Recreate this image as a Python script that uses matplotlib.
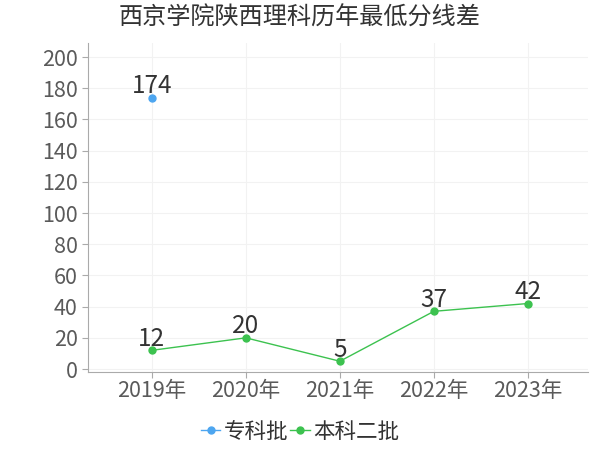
import matplotlib
matplotlib.use('Agg')
import matplotlib.pyplot as plt
import numpy as np

plt.rcParams['font.family'] = ['Noto Sans CJK SC', 'DejaVu Sans']

years = ['2019年', '2020年', '2021年', '2022年', '2023年']
zhuanke = [174, None, None, None, None]
benke2 = [12, 20, 5, 37, 42]

fig = plt.figure(figsize=(6, 4.5), dpi=100)
ax = fig.add_axes([88/600, 1-372/450, 500/600, 329/450])

x = np.arange(len(years))
zk = np.array([np.nan if v is None else v for v in zhuanke], dtype=float)
ax.plot(x, zk, color='#4da6f0', marker='o', markersize=5, lw=1, label='专科批')
ax.plot(x, benke2, color='#3cc24f', marker='o', markersize=5, lw=1, label='本科二批')

for i, v in enumerate(zk):
    if not np.isnan(v):
        ax.text(i, v - 1, str(int(v)), ha='center', va='bottom', fontsize=17.5, color='#333333')
for i, v in enumerate(benke2):
    ax.text(i, v - 1, str(v), ha='center', va='bottom', fontsize=17.5, color='#333333')

ax.set_xlim(-0.68, 4.64)
ax.set_ylim(-1.9, 209)
ax.set_yticks(range(0, 201, 20))
ax.set_xticks(x)
ax.set_xticklabels(years)
ax.tick_params(axis='both', labelsize=15.5, colors='#aaaaaa', labelcolor='#5a5a5a', length=4)
ax.tick_params(axis='x', pad=2)
ax.grid(True, color='#f2f2f2', lw=0.8)
ax.set_axisbelow(True)
for s in ['top', 'right']:
    ax.spines[s].set_visible(False)
for s in ['left', 'bottom']:
    ax.spines[s].set_color('#aaaaaa')

fig.suptitle('西京学院陕西理科历年最低分线差', x=0.5, y=0.99, fontsize=17.4, color='#333333')
fig.legend(loc='center', bbox_to_anchor=(0.5, 1-432/450), ncol=2, frameon=False,
           fontsize=15.5, handlelength=0.9, handletextpad=0.15, columnspacing=0.1,
           labelcolor='#333333')

fig.savefig('out.png', dpi=100)
